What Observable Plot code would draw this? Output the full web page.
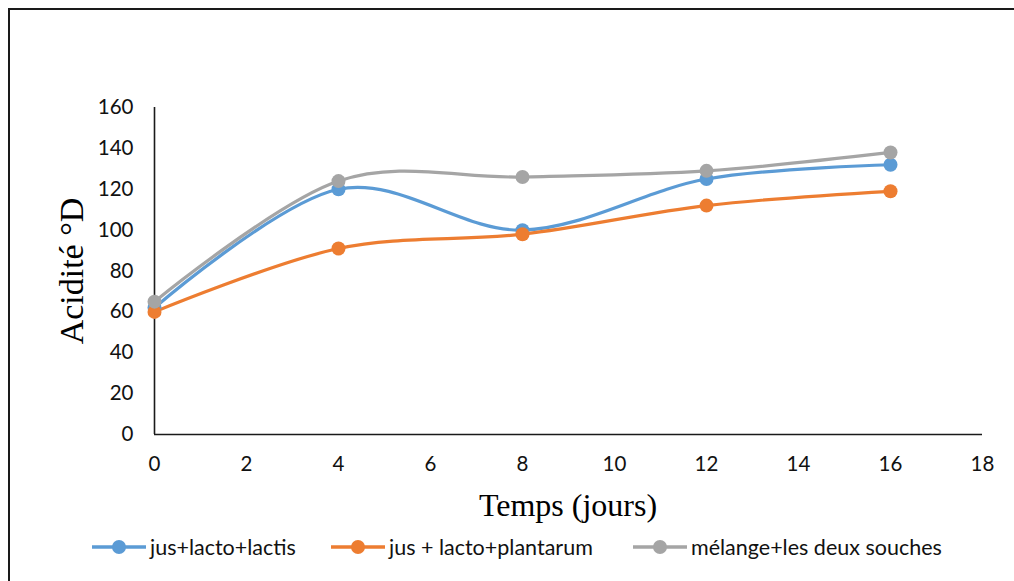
<!DOCTYPE html>
<html>
<head>
<meta charset="utf-8">
<script src="https://cdn.jsdelivr.net/npm/d3@7"></script>
<script src="https://cdn.jsdelivr.net/npm/@observablehq/plot@0.6"></script>
<style>
  html, body { margin: 0; padding: 0; background: #fff; overflow: hidden; }
  #page { position: relative; width: 1014px; height: 581px; }
  #border { position: absolute; left: 8px; top: 8px; width: 1040px; height: 620px; border: 2px solid #1a1a1a; box-sizing: border-box; }
  #chart { position: absolute; left: 0; top: 0; }
  .title { position: absolute; font-family: "Liberation Serif", "Times New Roman", serif; color: #000; white-space: nowrap; }
  #ytitle { left: 72px; top: 271px; font-size: 34px; transform: translate(-50%, -50%) rotate(-90deg); }
  #xtitle { left: 568px; top: 505px; font-size: 32px; transform: translate(-50%, -50%); }
  #legend { position: absolute; top: 533px; left: 0; width: 1014px; height: 28px; font-family: Lato, "Open Sans", sans-serif; font-size: 21.5px; color: #111; }
  .item { position: absolute; display: flex; align-items: center; height: 28px; white-space: nowrap; }
  .item svg { margin-right: 4px; }
</style>
</head>
<body>
<div id="page">
  <div id="border"></div>
  <div id="chart"></div>
  <div class="title" id="ytitle">Acidité °D</div>
  <div class="title" id="xtitle">Temps (jours)</div>
  <div id="legend"></div>
</div>
<script>
// Sampling days
const days = [0, 4, 8, 12, 16];

// Acidity (°D) for each culture
const lactis = [62, 120, 100, 125, 132];
const plantarum = [60, 91, 98, 112, 119];
const melange = [65, 124, 126, 129, 138];

const seriesNames = ["jus+lacto+lactis", "jus + lacto+plantarum", "mélange+les deux souches"];
const seriesColors = ["#5B9BD5", "#ED7D31", "#A5A5A5"];
const seriesValues = [lactis, plantarum, melange];

const xTicks = [0, 2, 4, 6, 8, 10, 12, 14, 16, 18];
const yTicks = [0, 20, 40, 60, 80, 100, 120, 140, 160];

const rows = seriesNames.flatMap((name, i) =>
  days.map((d, j) => ({series: name, day: d, value: seriesValues[i][j]}))
);

const tickFont = "Lato, 'Open Sans', sans-serif";

const chart = Plot.plot({
  width: 1014,
  height: 520,
  marginLeft: 154,
  marginRight: 32,
  marginTop: 107,
  marginBottom: 86,
  x: {domain: [0, 18]},
  y: {domain: [0, 160]},
  color: {domain: seriesNames, range: seriesColors},
  style: {fontFamily: tickFont, background: "transparent"},
  marks: [
    Plot.axisY({ticks: yTicks, tickSize: 0, tickPadding: 21, fontSize: 20.5, label: null, fill: "#111"}),
    Plot.axisX({ticks: xTicks, tickSize: 0, tickPadding: 22, fontSize: 20.5, label: null, fill: "#111"}),
    Plot.ruleX([0], {stroke: "#1a1a1a", strokeWidth: 1.6}),
    Plot.ruleY([0], {stroke: "#1a1a1a", strokeWidth: 1.6}),
    Plot.line(rows, {x: "day", y: "value", z: "series", stroke: "series", strokeWidth: 3.2, curve: "cardinal"}),
    Plot.dot(rows, {x: "day", y: "value", fill: "series", r: 7})
  ]
});
document.getElementById("chart").appendChild(chart);

// Legend entries below the plot
const legendLeft = [92, 331, 633];
const legend = document.getElementById("legend");
seriesNames.forEach((name, i) => {
  const item = document.createElement("div");
  item.className = "item";
  item.style.left = legendLeft[i] + "px";
  item.innerHTML = `<svg width="54" height="16"><line x1="0" y1="8" x2="54" y2="8" stroke="${seriesColors[i]}" stroke-width="3.5"/><circle cx="27" cy="8" r="7" fill="${seriesColors[i]}"/></svg><span>${name}</span>`;
  legend.appendChild(item);
});
</script>
</body>
</html>
